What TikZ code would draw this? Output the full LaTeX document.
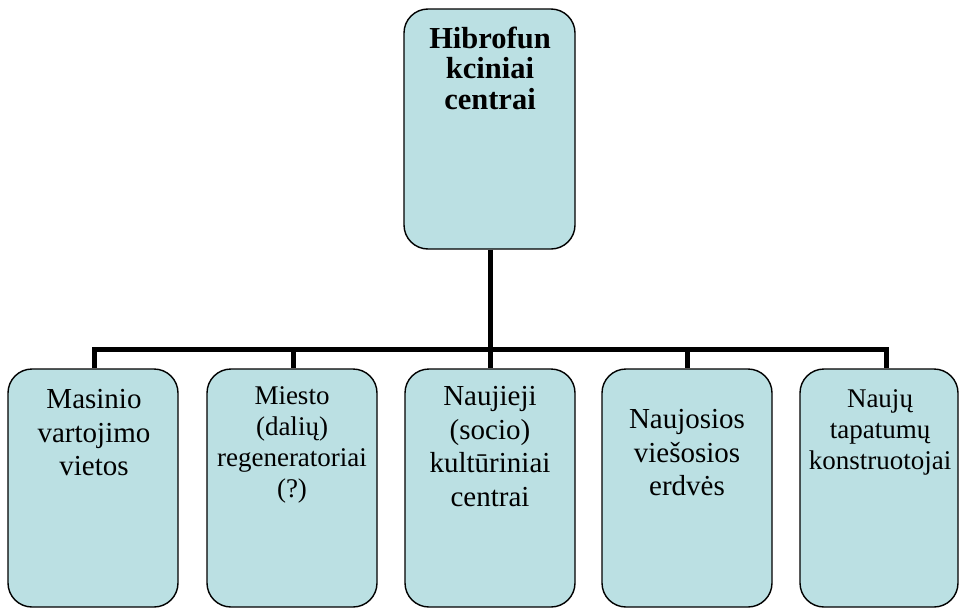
\documentclass[tikz,border=0pt]{standalone}
\usepackage{fontspec}
\setmainfont{Liberation Serif}
\definecolor{boxfill}{RGB}{187,224,227}
\begin{document}
\begin{tikzpicture}[x=1pt,y=-1pt,
  box/.style={draw=black, line width=1.4pt, fill=boxfill, rounded corners=24pt, rectangle, inner sep=0pt},
  small/.style={box, minimum width=170pt, minimum height=238pt},
  conn/.style={draw=black, line width=5pt, line join=miter, line cap=butt},
  txt/.style={anchor=north, inner sep=0pt, align=center, text=black},
  big/.style={txt, font=\fontsize{29}{33.5}\selectfont},
  little/.style={txt, font=\fontsize{27}{31}\selectfont}]
\useasboundingbox (0,0) rectangle (959,608);
% boxes
\node[box, minimum width=171pt, minimum height=240pt] (top) at (489.5,129) {};
\node[small] (b1) at (93,488) {};
\node[small] (b2) at (292,488) {};
\node[small] (b3) at (490,488) {};
\node[small] (b4) at (687,488) {};
\node[box, minimum width=158pt, minimum height=238pt] (b5) at (879,488) {};
% connectors
\coordinate (d1) at (94,349);
\coordinate (d2) at (293,349);
\coordinate (d3) at (490,349);
\coordinate (d4) at (687,349);
\coordinate (d5) at (886,349);
\draw[conn] (d1 |- b1.north) -- (d1) -- (d5) -- (d5 |- b5.north);
\draw[conn] (d2) -- (d2 |- b2.north);
\draw[conn] (d4) -- (d4 |- b4.north);
\draw[conn] (top.south -| d3) -- (d3 |- b3.north);
% texts
\node[txt, font=\fontsize{30.5}{30.5}\selectfont\bfseries] (t0) at (490,26.5) {Hibrofun\\kciniai\\centrai};
\node[big] (t1) at (94,389.5) {Masinio\\vartojimo\\vietos};
\node[little] (t2) at (292,386.5) {Miesto\\(dalių)\\regeneratoriai\\(?)};
\node[big] (t3) at (490,386.5) {Naujieji\\(socio)\\kultūriniai\\centrai};
\node[big] (t4) at (687,409.5) {Naujosios\\viešosios\\erdvės};
\node[little] (t5) at (880,389.5) {Naujų\\tapatumų\\konstruotojai};
\end{tikzpicture}
\end{document}
